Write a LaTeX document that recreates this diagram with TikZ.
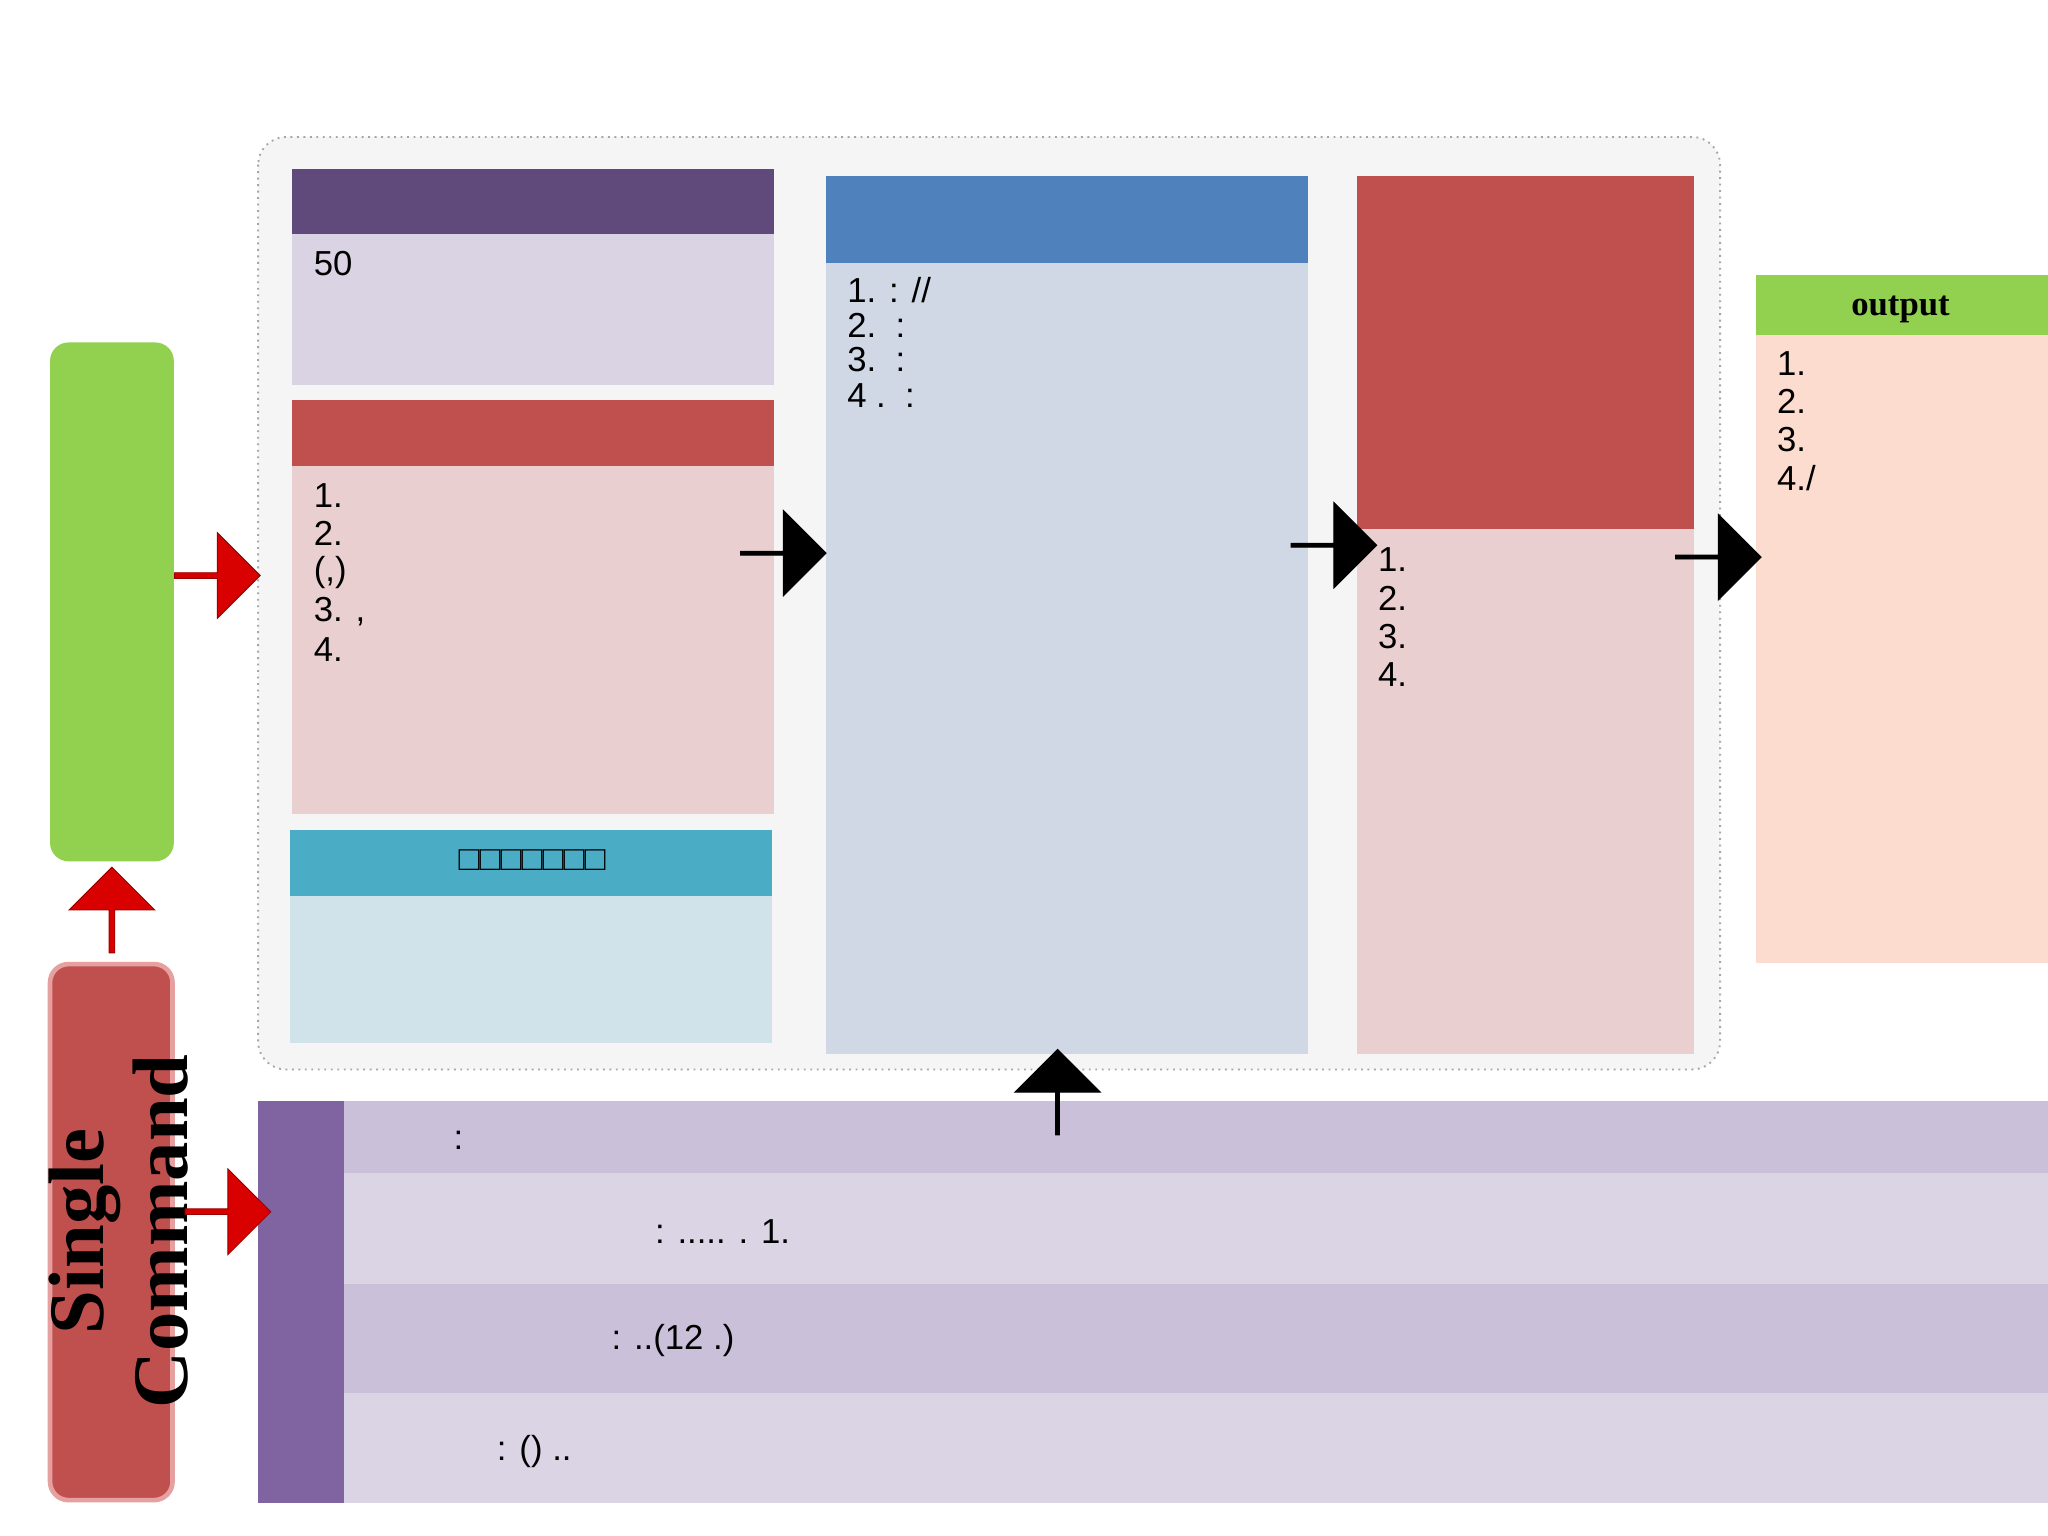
\documentclass[tikz,border=0pt]{standalone}
\usepackage{fontspec}
\setmainfont{Liberation Sans}
\newfontfamily\serifb{Liberation Serif}
\usetikzlibrary{shapes.arrows}
\begin{document}
\begin{tikzpicture}[x=0.02cm,y=-0.02cm,
  txt/.style={anchor=west,font=\fontsize{15}{15}\selectfont,inner sep=0},
  rarrow/.style={single arrow,fill=red!85!black,draw=red!60!black,minimum height=1.3cm,minimum width=1.3cm,single arrow head extend=0.1cm,inner sep=0},
  barrow/.style={single arrow,fill=black,draw=black,minimum height=1.3cm,minimum width=1.3cm,single arrow head extend=0.15cm,inner sep=0}]
\useasboundingbox (0,0) rectangle (1555,1166);
\fill[white] (0,0) rectangle (1555,1166);
% outer
\draw[gray!70,dotted,thick,fill=black!4,rounded corners=12] (196,104) rectangle (1306,812);
% box1
\fill[fill={rgb,255:red,96;green,74;blue,123}] (222,128) rectangle (588,178);
\fill[fill={rgb,255:red,217;green,211;blue,227}] (222,178) rectangle (588,292);
\node[txt] (t50) at (238,200) {50};
% box2
\fill[fill={rgb,255:red,192;green,80;blue,77}] (222,304) rectangle (588,354);
\fill[fill={rgb,255:red,234;green,207;blue,208}] (222,354) rectangle (588,618);
\node[txt] at (238,376) {1.};
\node[txt] at (238,405) {2.};
\node[txt] at (238,435) {(,)};
\node[txt] at (238,464) {3. ,};
\node[txt] at (238,493) {4.};
% box3
\fill[fill={rgb,255:red,75;green,172;blue,198}] (220,630) rectangle (586,680);
\fill[fill={rgb,255:red,208;green,226;blue,234}] (220,680) rectangle (586,792);
\node[font=\fontsize{15}{15}\selectfont] at (404,653) {□□□□□□□};
% middle
\fill[fill={rgb,255:red,79;green,129;blue,189}] (627,134) rectangle (993,200);
\fill[fill={rgb,255:red,208;green,216;blue,230}] (627,200) rectangle (993,800);
\node[txt] at (643,220) {1. : //};
\node[txt] at (643,247) {2.\ \ :};
\node[txt] at (643,273) {3.\ \ :};
\node[txt] at (643,300) {4 .\ \ :};
% right
\fill[fill={rgb,255:red,192;green,80;blue,77}] (1030,134) rectangle (1286,402);
\fill[fill={rgb,255:red,234;green,207;blue,208}] (1030,402) rectangle (1286,800);
\node[txt] at (1046,425) {1.};
\node[txt] at (1046,454) {2.};
\node[txt] at (1046,483) {3.};
\node[txt] at (1046,512) {4.};
% output
\fill[fill={rgb,255:red,146;green,208;blue,80}] (1333,209) rectangle (1555,254);
\fill[fill={rgb,255:red,251;green,220;blue,207}] (1333,254) rectangle (1555,731);
\node[font=\serifb\bfseries\fontsize{15}{15}\selectfont] at (1443,235) {output};
\node[txt] at (1349,276) {1.};
\node[txt] at (1349,305) {2.};
\node[txt] at (1349,334) {3.};
\node[txt] at (1349,363) {4./};
% left
\fill[fill={rgb,255:red,146;green,208;blue,80},rounded corners=8] (38,260) rectangle (132,654);
\draw[line width=2,draw={rgb,255:red,230;green,160;blue,160},fill={rgb,255:red,192;green,80;blue,77},rounded corners=8] (38,732) rectangle (131,1139);
\node[rotate=90,align=center,font=\serifb\bfseries\fontsize{34}{36}\selectfont] at (90,935) {Single\\Command};
% bottom table
\fill[fill={rgb,255:red,128;green,100;blue,162}] (196,836) rectangle (261,1141);
\fill[fill={rgb,255:red,203;green,192;blue,218}] (261,836) rectangle (1555,891);
\fill[fill={rgb,255:red,218;green,212;blue,228}] (261,891) rectangle (1555,975);
\fill[fill={rgb,255:red,203;green,192;blue,218}] (261,975) rectangle (1555,1058);
\fill[fill={rgb,255:red,218;green,212;blue,228}] (261,1058) rectangle (1555,1141);
\node[txt] at (344,866) {:};
\node[txt] at (497,935) {: ..... . 1.};
\node[txt] at (464,1018) {: ..(12 .)};
\node[txt] at (377,1102) {: () ..};
% arrows
\node[rarrow] (a1) at (164,437) {};
\node[rarrow,rotate=90] (a2) at (85,692) {};
\node[rarrow] (a3) at (172,920) {};
\node[barrow] (b1) at (594,420) {};
\node[barrow] (b2) at (1012,414) {};
\node[barrow] (b3) at (1304,423) {};
\node[barrow,rotate=90] (b4) at (803,830) {};
\end{tikzpicture}
\end{document}
